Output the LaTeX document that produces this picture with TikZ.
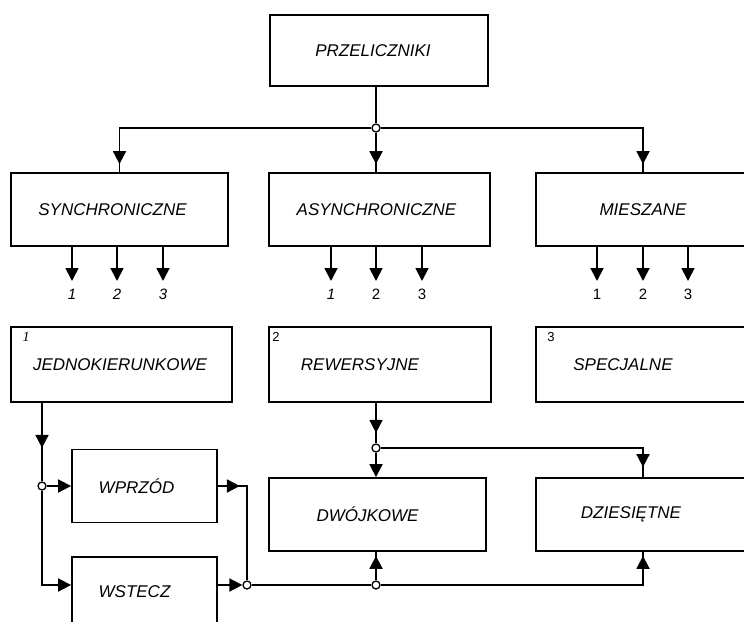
\documentclass[tikz,border=0pt]{standalone}
\usepackage{fontspec}
\setmainfont{Liberation Sans}
\newfontfamily\szeryf{Liberation Serif}
\usetikzlibrary{arrows.meta, decorations.markings}

\tikzset{
    caja/.style={draw, line width=1.8pt, inner sep=0pt, font=\fontsize{17}{20}\selectfont\itshape},
    nodo/.style={circle, draw, fill=white, line width=1.3pt, inner sep=0pt, minimum size=8pt},
    numer/.style={anchor=north, inner sep=0pt, outer sep=8pt, font=\fontsize{15}{15}\selectfont},
    esquina/.style={inner sep=0pt, font=\fontsize{13}{13}\selectfont},
    linea/.style={line width=1.8pt},
    flecha/.style={linea, -{Triangle[width=13pt,length=13pt]}},
    punta/.style={linea, decoration={markings, mark=at position #1 with {\arrow{Triangle[width=13pt,length=13pt]}}}, postaction={decorate}}
}

\begin{document}
\begin{tikzpicture}[x=1pt, y=-1pt]
    \useasboundingbox (0,0) rectangle (744,621);
    \clip (0,0) rectangle (744,621);

    % Cajas (el texto va algo a la izquierda)
    \node[caja, minimum width=218pt, minimum height=71pt] (prz) at (379,50.5) {PRZELICZNIKI\kern12pt};
    \node[caja, minimum width=217pt, minimum height=73pt] (syn) at (119.5,209.5) {SYNCHRONICZNE\kern14pt};
    \node[caja, minimum width=221pt, minimum height=73pt] (asy) at (379.5,209.5) {ASYNCHRONICZNE\kern6pt};
    \node[caja, minimum width=214pt, minimum height=73pt] (mie) at (643,209.5) {MIESZANE};
    \node[caja, minimum width=221pt, minimum height=75pt] (jed) at (121.5,364.5) {JEDNOKIERUNKOWE\kern3pt};
    \node[caja, minimum width=222pt, minimum height=75pt] (rew) at (380,364.5) {REWERSYJNE\kern40pt};
    \node[caja, minimum width=214pt, minimum height=75pt] (spe) at (643,364.5) {SPECJALNE\kern40pt};
    \node[caja, minimum width=145pt, minimum height=73pt] (wpr) at (144.5,486) {WPRZÓD\kern16pt};
    \node[caja, minimum width=145pt, minimum height=70pt] (wst) at (144.5,592) {WSTECZ\kern20pt};
    \node[caja, minimum width=217pt, minimum height=73pt] (dwo) at (377.5,514.5) {DWÓJKOWE\kern20pt};
    \node[caja, minimum width=214pt, minimum height=73pt] (dzi) at (643,514.5) {DZIESIĘTNE\kern24pt};

    % Numeros en las esquinas
    \node[esquina, font=\fontsize{14}{14}\selectfont\szeryf\itshape] (e1) at ([shift={(16,11)}]jed.north west) {1};
    \node[esquina] (e2) at ([shift={(8,11)}]rew.north west) {2};
    \node[esquina] (e3) at ([shift={(16,11)}]spe.north west) {3};

    % Puntos de union
    \node[nodo] (j0) at (376,128) {};
    \node[nodo] (j1) at (42,486) {};
    \node[nodo] (j2) at (247,585) {};
    \node[nodo] (j3) at (376,585) {};
    \node[nodo] (j4) at (376,448) {};

    % Salidas 1 2 3
    \node[numer, font=\fontsize{15}{15}\selectfont\itshape] (s1) at (72,281) {1};
    \node[numer, font=\fontsize{15}{15}\selectfont\itshape] (s2) at (117,281) {2};
    \node[numer, font=\fontsize{15}{15}\selectfont\itshape] (s3) at (163,281) {3};
    \node[numer, font=\fontsize{15}{15}\selectfont\itshape] (a1) at (331,281) {1};
    \node[numer] (a2) at (376,281) {2};
    \node[numer] (a3) at (422,281) {3};
    \node[numer] (m1) at (597,281) {1};
    \node[numer] (m2) at (643,281) {2};
    \node[numer] (m3) at (688,281) {3};
    \draw[flecha] (syn.south -| s1.north) -- (s1.north);
    \draw[flecha] (syn.south -| s2.north) -- (s2.north);
    \draw[flecha] (syn.south -| s3.north) -- (s3.north);
    \draw[flecha] (asy.south -| a1.north) -- (a1.north);
    \draw[flecha] (asy.south -| a2.north) -- (a2.north);
    \draw[flecha] (asy.south -| a3.north) -- (a3.north);
    \draw[flecha] (mie.south -| m1.north) -- (m1.north);
    \draw[flecha] (mie.south -| m2.north) -- (m2.north);
    \draw[flecha] (mie.south -| m3.north) -- (m3.north);

    % Arriba
    \draw[linea] (prz.south -| j0) -- (j0);
    \draw[punta=-8pt] (j0) -| (syn);
    \draw[punta=-8pt] (j0) -- (j0 |- asy.north);
    \draw[punta=-8pt] (j0) -| (mie);

    % Jednokierunkowe
    \draw[punta=45pt] (jed.south -| j1) -- (j1);
    \draw[flecha] (j1) -- (wpr.west);
    \draw[flecha] (j1) |- (wst.west |- j2);
    \draw[punta=22pt] (wpr.east) -| (j2);
    \draw[flecha] (wst.east |- j2) -- (j2);
    \draw[linea] (j2) -- (j3);
    \draw[punta=-4pt] (j3) -- (j3 |- dwo.south);
    \draw[punta=-4pt] (j3) -| (dzi);

    % Rewersyjne
    \draw[punta=30pt] (rew.south -| j4) -- (j4);
    \draw[flecha] (j4) -- (j4 |- dwo.north);
    \draw[punta=-10pt] (j4) -| (dzi);
\end{tikzpicture}
\end{document}
